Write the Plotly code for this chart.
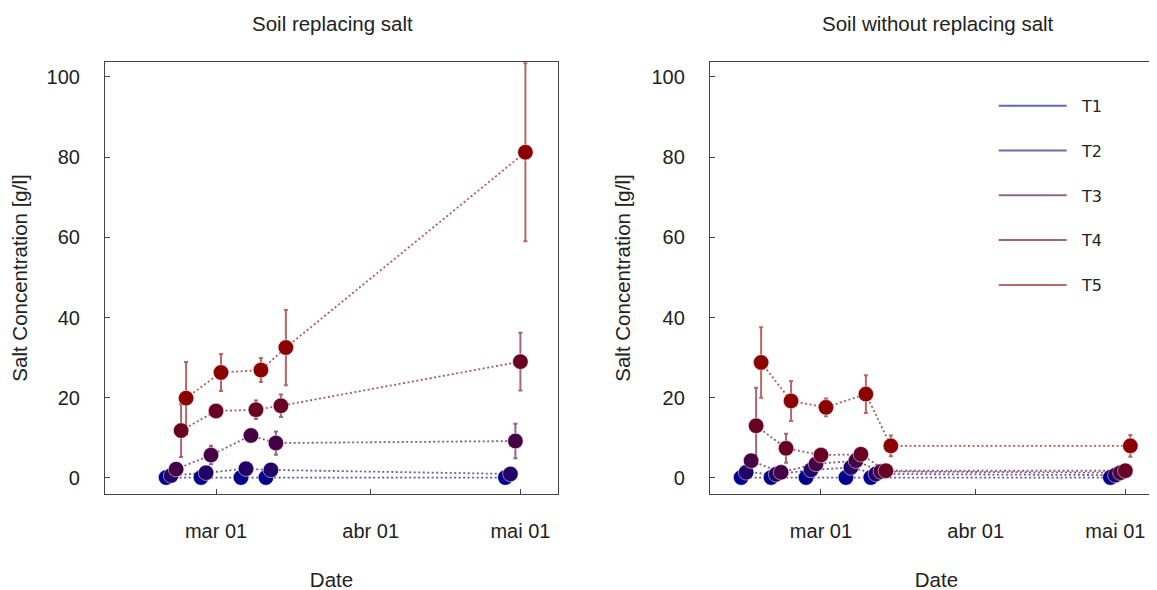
import plotly.graph_objects as go
from datetime import date, timedelta

# ---------------- data ----------------
treatments = ["T1", "T2", "T3", "T4", "T5"]

# Sampling dates (first treatment); each following treatment is drawn one day later
dates_replacing = ["2023-02-19", "2023-02-26", "2023-03-06", "2023-03-11", "2023-04-28"]
dates_without = ["2023-02-13", "2023-02-19", "2023-02-26", "2023-03-06", "2023-03-11", "2023-04-28"]

# Soil replacing salt: mean salt concentration [g/l]
rep_T1 = [0.1, 0.1, 0.1, 0.1, 0.1]
rep_T2 = [0.6, 1.3, 2.3, 2.0, 1.0]
rep_T3 = [2.2, 5.7, 10.6, 8.7, 9.2]
rep_T4 = [11.8, 16.7, 17.0, 18.0, 29.0]
rep_T5 = [19.9, 26.3, 26.9, 32.5, 81.2]
# standard deviations
rep_T1_err = [0.1, 0.1, 0.1, 0.1, 0.1]
rep_T2_err = [0.3, 0.4, 0.5, 0.5, 0.3]
rep_T3_err = [0.6, 2.3, 0.6, 2.9, 4.3]
rep_T4_err = [6.6, 0.8, 2.3, 2.8, 7.2]
rep_T5_err = [9.0, 4.6, 3.0, 9.4, 22.2]

# Soil without replacing salt
wo_T1 = [0.1, 0.1, 0.1, 0.1, 0.1, 0.1]
wo_T2 = [1.4, 0.9, 2.0, 2.6, 1.0, 0.7]
wo_T3 = [4.3, 1.4, 3.5, 4.3, 1.6, 1.3]
wo_T4 = [13.0, 7.4, 5.7, 5.9, 1.8, 1.8]
wo_T5 = [28.8, 19.2, 17.6, 20.9, 8.0, 8.0]
wo_T1_err = [0.1, 0.1, 0.1, 0.1, 0.1, 0.1]
wo_T2_err = [0.3, 0.3, 0.4, 0.5, 0.3, 0.3]
wo_T3_err = [0.6, 0.4, 0.5, 0.6, 0.4, 0.4]
wo_T4_err = [9.5, 3.6, 0.8, 0.8, 0.5, 0.5]
wo_T5_err = [8.8, 5.0, 2.2, 4.7, 2.6, 2.7]

tick_dates = ["2023-03-01", "2023-04-01", "2023-05-01"]
tick_labels = ["mar 01", "abr 01", "mai 01"]
y_ticks = [0, 20, 40, 60, 80, 100]

panel_titles = ["Soil replacing salt", "Soil without replacing salt"]
y_title = "Salt Concentration [g/l]"
x_title = "Date"

# ---------------- styling ----------------
rgb = [(0, 0, 139), (35, 0, 104), (70, 0, 70), (104, 0, 35), (139, 0, 0)]
def solid(c):
    return "rgb(%d,%d,%d)" % c
def alpha(c, a):
    return "rgba(%d,%d,%d,%.2f)" % (c + (a,))

tick_font = dict(family="Liberation Sans, Arial, sans-serif", size=20, color="#222")
title_font = dict(family="Liberation Sans, Arial, sans-serif", size=20.5, color="#222")

def shifted(dlist, k):
    out = []
    for d in dlist:
        y, m, dd = map(int, d.split("-"))
        out.append((date(y, m, dd) + timedelta(days=k)).isoformat())
    return out

fig = go.Figure()

panels = [
    ("x", "y", dates_replacing,
     [rep_T1, rep_T2, rep_T3, rep_T4, rep_T5],
     [rep_T1_err, rep_T2_err, rep_T3_err, rep_T4_err, rep_T5_err]),
    ("x2", "y2", dates_without,
     [wo_T1, wo_T2, wo_T3, wo_T4, wo_T5],
     [wo_T1_err, wo_T2_err, wo_T3_err, wo_T4_err, wo_T5_err]),
]

for xa, ya, dts, vals, errs in panels:
    for i, name in enumerate(treatments):
        fig.add_trace(go.Scatter(
            x=shifted(dts, i), y=vals[i], name=name, xaxis=xa, yaxis=ya,
            mode="lines+markers", showlegend=False,
            line=dict(color=alpha(rgb[i], 0.65), width=1.8, dash="2px,2.5px"),
            marker=dict(color=solid(rgb[i]), size=15.5,
                        line=dict(color="rgba(255,255,255,0.5)", width=1)),
            error_y=dict(type="data", array=errs[i], visible=True,
                         color=alpha(rgb[i], 0.6), thickness=2, width=2),
        ))

# legend entries (solid light lines) shown in the right panel
for i, name in enumerate(treatments):
    fig.add_trace(go.Scatter(
        x=[None], y=[None], name="\u00a0\u00a0" + name, xaxis="x2", yaxis="y2",
        mode="lines", legendgroup=name, showlegend=True,
        line=dict(color=alpha(rgb[i], 0.6), width=2),
    ))

axis_common = dict(
    showline=True, linecolor="#444", linewidth=1.2, mirror=True,
    ticks="inside", ticklen=5, tickcolor="#444", tickwidth=1,
    showgrid=False, zeroline=False, tickfont=tick_font,
)

xrange_all = ["2023-02-06 18:00", "2023-05-08 13:00"]

fig.update_layout(
    width=1157, height=590,
    margin=dict(l=97, r=2, t=54, b=104, pad=0),
    paper_bgcolor="white", plot_bgcolor="white",
    xaxis=dict(domain=[0, 0.4282], range=xrange_all, type="date",
               tickvals=tick_dates, ticktext=tick_labels,
               ticklabelstandoff=19,
               title=dict(text=x_title, font=title_font, standoff=31),
               **axis_common),
    # right panel: first two date ticks
    xaxis2=dict(domain=[0.5718, 1.0], range=xrange_all, type="date",
                tickvals=tick_dates[:2], ticktext=tick_labels[:2],
                ticklabelstandoff=19,
                title=dict(text=x_title, font=title_font, standoff=31),
                **axis_common),
    # right panel: last date tick, label nudged so it stays inside the page
    xaxis3=dict(overlaying="x2", anchor="y2", side="bottom", range=xrange_all,
                type="date", tickvals=tick_dates[2:], ticktext=tick_labels[2:],
                ticklabelstandoff=23, ticklabelshift=-10,
                showline=False, ticks="inside", ticklen=5, tickcolor="#444",
                tickwidth=1, showgrid=False, zeroline=False, tickfont=tick_font),
    yaxis=dict(domain=[0, 1], range=[-4, 103.7], anchor="x",
               tickvals=y_ticks, ticklabelstandoff=20,
               title=dict(text=y_title, font=title_font, standoff=15),
               **axis_common),
    yaxis2=dict(domain=[0, 1], range=[-4, 103.7], anchor="x2",
                tickvals=y_ticks, ticklabelstandoff=20,
                title=dict(text=y_title, font=title_font, standoff=15),
                **axis_common),
    legend=dict(x=0.840, y=0.938, xanchor="left", yanchor="top",
                bgcolor="rgba(0,0,0,0)", borderwidth=0,
                font=dict(family="DejaVu Sans", size=16, color="#222"),
                tracegroupgap=21, itemwidth=68),
    annotations=[
        dict(text=panel_titles[0], x=0.2146, y=1.088, xref="paper", yref="paper",
             xanchor="center", yanchor="middle", showarrow=False, font=title_font),
        dict(text=panel_titles[1], x=0.787, y=1.088, xref="paper", yref="paper",
             xanchor="center", yanchor="middle", showarrow=False, font=title_font),
    ],
)

# an invisible trace so the overlaying axis for the last right-panel tick is drawn
fig.add_trace(go.Scatter(x=[tick_dates[2]], y=[None], xaxis="x3", yaxis="y2",
                         mode="markers", showlegend=False, hoverinfo="skip"))

fig.write_html("out.html")
